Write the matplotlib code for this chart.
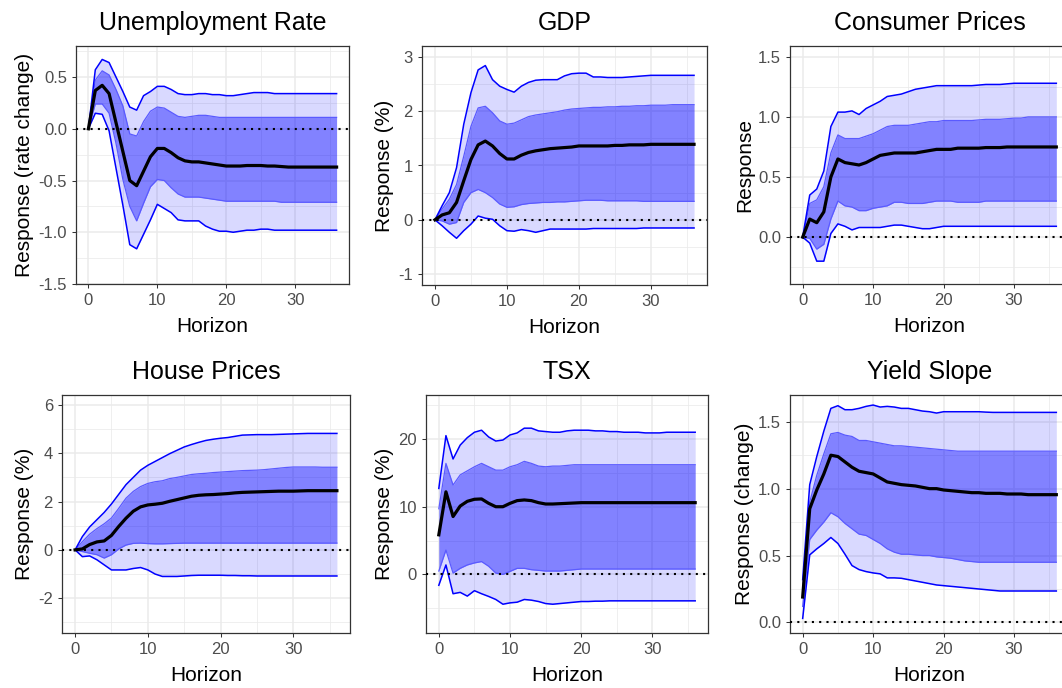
import numpy as np
import matplotlib
matplotlib.use("Agg")
import matplotlib.pyplot as plt
from matplotlib.ticker import MultipleLocator, FuncFormatter

plt.rcParams['font.family'] = ['Liberation Sans', 'DejaVu Sans']
plt.rcParams['axes.unicode_minus'] = False

horizon = np.arange(37)

# Unemployment Rate
unemp_lo90 = [0, 0.15, 0.14, -0.02, -0.38, -0.74, -1.12, -1.16, -1.02, -0.88, -0.73, -0.77, -0.81, -0.88,
              -0.89, -0.89, -0.89, -0.94, -0.97, -0.99, -0.99, -1.0, -0.99, -0.98, -0.98, -0.97, -0.97, -0.98] + [-0.98] * 9
unemp_lo68 = [0, 0.24, 0.24, 0.15, -0.14, -0.49, -0.75, -0.89, -0.72, -0.56, -0.49, -0.50, -0.57, -0.63,
              -0.66, -0.66, -0.66, -0.67, -0.68, -0.69, -0.70, -0.70, -0.70, -0.70, -0.70, -0.70, -0.70, -0.70] + [-0.71] * 9
unemp_med = [0, 0.37, 0.42, 0.34, 0.06, -0.22, -0.50, -0.55, -0.41, -0.27, -0.19, -0.19, -0.23, -0.28, -0.31,
             -0.32, -0.32, -0.33, -0.34, -0.35, -0.36, -0.36, -0.36, -0.355, -0.355, -0.355, -0.36, -0.36,
             -0.365, -0.37] + [-0.37] * 7
unemp_hi68 = [0, 0.47, 0.56, 0.52, 0.38, 0.22, -0.05, -0.07, 0.07, 0.17, 0.21, 0.20, 0.16, 0.12, 0.11, 0.12,
              0.13, 0.13, 0.12, 0.11, 0.11, 0.11] + [0.11] * 15
unemp_hi90 = [0, 0.57, 0.67, 0.64, 0.50, 0.36, 0.21, 0.18, 0.32, 0.36, 0.41, 0.41, 0.38, 0.34,
              0.33, 0.33, 0.34, 0.34, 0.33, 0.33, 0.32, 0.32, 0.33, 0.34, 0.35, 0.35, 0.35, 0.34] + [0.34] * 9

# GDP
gdp_lo90 = [0, -0.11, -0.23, -0.34, -0.20, -0.08, 0.07, 0.03, 0.01, -0.11, -0.20, -0.21, -0.18, -0.20, -0.23,
            -0.20, -0.17, -0.17, -0.17, -0.17, -0.17, -0.17, -0.16, -0.16, -0.16, -0.16, -0.16, -0.16, -0.16] + [-0.15] * 8
gdp_lo68 = [0, -0.02, -0.08, -0.05, 0.32, 0.50, 0.56, 0.50, 0.41, 0.29, 0.23, 0.24, 0.28, 0.30, 0.31, 0.32,
            0.32, 0.33, 0.33, 0.34, 0.35, 0.36, 0.36, 0.36, 0.35, 0.35, 0.35, 0.35, 0.35, 0.34] + [0.34] * 7
gdp_med = [0, 0.09, 0.13, 0.32, 0.72, 1.11, 1.38, 1.45, 1.36, 1.22, 1.12, 1.12, 1.19, 1.24, 1.27, 1.29, 1.31,
           1.32, 1.33, 1.34, 1.36, 1.36, 1.36, 1.36, 1.36, 1.37, 1.37, 1.38, 1.38, 1.38] + [1.39] * 7
gdp_hi68 = [0, 0.20, 0.38, 0.65, 1.17, 1.72, 2.06, 2.09, 1.97, 1.82, 1.76, 1.78, 1.84, 1.90, 1.93, 1.95, 1.97,
            1.99, 2.02, 2.04, 2.05, 2.06, 2.07, 2.07, 2.08, 2.08, 2.09, 2.09, 2.10, 2.10, 2.11, 2.11, 2.11,
            2.12, 2.12, 2.12, 2.12]
gdp_hi90 = [0, 0.26, 0.50, 0.96, 1.76, 2.34, 2.76, 2.84, 2.58, 2.46, 2.40, 2.35, 2.46, 2.53, 2.57, 2.58, 2.58,
            2.58, 2.65, 2.69, 2.70, 2.70, 2.63, 2.63, 2.62, 2.62, 2.62, 2.63, 2.64, 2.65] + [2.66] * 7

# Consumer Prices
cpi_lo90 = [0, -0.05, -0.20, -0.20, 0.03, 0.11, 0.09, 0.06, 0.08, 0.08, 0.08, 0.08, 0.09, 0.10, 0.10, 0.09,
            0.08, 0.07, 0.07, 0.08, 0.09, 0.09] + [0.09] * 15
cpi_lo68 = [0, -0.01, -0.10, -0.06, 0.15, 0.30, 0.26, 0.25, 0.22, 0.22, 0.24, 0.25, 0.26, 0.29, 0.29, 0.28,
            0.28, 0.28, 0.29, 0.30, 0.30, 0.30, 0.29, 0.29, 0.29, 0.29] + [0.30] * 11
cpi_med = [0, 0.15, 0.12, 0.21, 0.50, 0.65, 0.62, 0.61, 0.60, 0.62, 0.65, 0.68, 0.69, 0.70, 0.70, 0.70, 0.70,
           0.71, 0.72, 0.73, 0.73, 0.73, 0.74, 0.74, 0.74, 0.74, 0.745, 0.745, 0.745] + [0.75] * 8
cpi_hi68 = [0, 0.28, 0.31, 0.42, 0.70, 0.85, 0.82, 0.82, 0.82, 0.84, 0.86, 0.89, 0.92, 0.93, 0.93, 0.93, 0.94,
            0.95, 0.96, 0.96, 0.97, 0.97, 0.97, 0.97, 0.97, 0.975, 0.98, 0.98, 0.98, 0.985, 0.99, 0.99] + [1.0] * 5
cpi_hi90 = [0, 0.35, 0.40, 0.55, 0.92, 1.04, 1.04, 1.05, 1.02, 1.07, 1.10, 1.13, 1.17, 1.18, 1.19, 1.21, 1.23,
            1.24, 1.25, 1.26, 1.26, 1.26, 1.26, 1.26, 1.26, 1.265, 1.27, 1.27, 1.27, 1.275] + [1.28] * 7

# House Prices
house_lo90 = [0, -0.28, -0.25, -0.41, -0.62, -0.83, -0.83, -0.83, -0.77, -0.73, -0.83, -1.0, -1.1, -1.1, -1.1,
              -1.08, -1.06, -1.05, -1.05, -1.05, -1.05, -1.06, -1.06, -1.07, -1.07, -1.08] + [-1.08] * 11
house_lo68 = [0, -0.07, -0.14, -0.20, -0.34, -0.20, 0.04, 0.20, 0.27, 0.28, 0.26, 0.25, 0.25, 0.26, 0.27,
              0.28] + [0.28] * 21
house_med = [0, 0.04, 0.22, 0.33, 0.37, 0.60, 0.97, 1.31, 1.60, 1.78, 1.86, 1.89, 1.93, 2.01, 2.08, 2.15, 2.22,
             2.26, 2.28, 2.29, 2.31, 2.33, 2.36, 2.38, 2.39, 2.40, 2.41, 2.42, 2.43, 2.43, 2.43, 2.44, 2.45,
             2.45, 2.45, 2.45, 2.45]
house_hi68 = [0, 0.34, 0.65, 0.88, 1.08, 1.32, 1.72, 2.14, 2.42, 2.62, 2.75, 2.82, 2.86, 2.95, 3.00, 3.06, 3.12,
              3.15, 3.17, 3.20, 3.22, 3.24, 3.26, 3.28, 3.29, 3.30, 3.32, 3.35, 3.38, 3.41, 3.43, 3.43, 3.43,
              3.43, 3.42, 3.42, 3.42]
house_hi90 = [0, 0.55, 0.95, 1.25, 1.55, 1.90, 2.30, 2.70, 3.00, 3.30, 3.50, 3.66, 3.82, 3.98, 4.12, 4.26, 4.36,
              4.45, 4.53, 4.58, 4.62, 4.65, 4.70, 4.75, 4.76, 4.77, 4.77, 4.77, 4.78, 4.79, 4.80, 4.81, 4.82,
              4.82, 4.82, 4.82, 4.82]

# TSX
tsx_lo90 = [-1.6, 1.4, -2.85, -2.65, -3.2, -2.4, -2.85, -3.25, -3.7, -4.4, -4.2, -4.1, -3.7, -3.8, -4.0, -4.3,
            -4.4, -4.3, -4.2, -4.1, -4.0, -4.0, -3.95, -3.95] + [-3.9] * 13
tsx_lo68 = [0.5, 3.6, 0.2, 0.9, 1.4, 1.7, 1.9, 1.2, 0.2, 0.0, 0.45, 0.9, 0.9, 0.7, 0.6, 0.5, 0.5, 0.5, 0.6,
            0.7, 0.8] + [0.8] * 16
tsx_med = [5.85, 12.2, 8.55, 10.1, 10.8, 11.1, 11.15, 10.5, 10.0, 10.0, 10.5, 10.9, 11.0, 10.9, 10.6, 10.4,
           10.4, 10.45, 10.5, 10.55] + [10.6] * 17
tsx_hi68 = [9.7, 16.4, 13.2, 14.7, 15.3, 15.9, 16.4, 15.9, 15.4, 15.4, 15.9, 16.2, 16.7, 16.4, 16.0, 15.9,
            16.0, 16.0, 16.1, 16.2] + [16.2] * 17
tsx_hi90 = [12.7, 20.5, 17.05, 19.1, 20.2, 21.0, 21.3, 20.3, 19.7, 19.85, 20.6, 20.9, 21.6, 21.6, 21.2, 21.1,
            21.0, 21.0, 21.2, 21.3, 21.3, 21.3, 21.2, 21.2, 21.1, 21.1, 21.0, 21.0, 21.0, 20.9, 20.9, 20.9,
            21.0, 21.0, 21.0, 21.0, 21.0]

# Yield Slope
slope_lo90 = [0.03, 0.505, 0.55, 0.59, 0.635, 0.59, 0.51, 0.425, 0.395, 0.38, 0.37, 0.363, 0.333, 0.333, 0.33,
              0.32, 0.31, 0.30, 0.29, 0.28, 0.275, 0.27, 0.265, 0.26, 0.255, 0.25, 0.245, 0.24] + [0.235] * 9
slope_lo68 = [0.12, 0.62, 0.69, 0.75, 0.82, 0.79, 0.74, 0.70, 0.66, 0.65, 0.62, 0.59, 0.55, 0.525, 0.51, 0.51,
              0.505, 0.50, 0.50, 0.49, 0.485, 0.48, 0.47, 0.46, 0.455] + [0.45] * 12
slope_med = [0.19, 0.85, 0.99, 1.11, 1.25, 1.24, 1.20, 1.16, 1.13, 1.12, 1.11, 1.08, 1.05, 1.04, 1.03, 1.025,
             1.02, 1.01, 1.0, 1.0, 0.99, 0.985, 0.98, 0.975, 0.97, 0.97, 0.965, 0.965, 0.965, 0.96, 0.96, 0.96,
             0.955, 0.955, 0.955, 0.955, 0.955]
slope_hi68 = [0.25, 0.90, 1.10, 1.26, 1.41, 1.42, 1.40, 1.39, 1.36, 1.36, 1.35, 1.34, 1.33, 1.32, 1.32, 1.315,
              1.31, 1.305, 1.30, 1.295, 1.29, 1.285] + [1.28] * 15
slope_hi90 = [0.32, 1.03, 1.24, 1.43, 1.60, 1.62, 1.59, 1.59, 1.60, 1.615, 1.625, 1.61, 1.615, 1.61, 1.60, 1.60,
              1.59, 1.58, 1.575, 1.565, 1.575, 1.575, 1.575, 1.575, 1.575, 1.575, 1.572] + [1.57] * 10

titles = ["Unemployment Rate", "GDP", "Consumer Prices", "House Prices", "TSX", "Yield Slope"]
ylabels = ["Response (rate change)", "Response (%)", "Response", "Response (%)", "Response (%)", "Response (change)"]

panels = [
    (unemp_lo90, unemp_lo68, unemp_med, unemp_hi68, unemp_hi90),
    (gdp_lo90, gdp_lo68, gdp_med, gdp_hi68, gdp_hi90),
    (cpi_lo90, cpi_lo68, cpi_med, cpi_hi68, cpi_hi90),
    (house_lo90, house_lo68, house_med, house_hi68, house_hi90),
    (tsx_lo90, tsx_lo68, tsx_med, tsx_hi68, tsx_hi90),
    (slope_lo90, slope_lo68, slope_med, slope_hi68, slope_hi90),
]

# panel boxes in pixels (left, top, right, bottom), y limits, tick step, decimals
boxes = [(76, 46, 349, 284), (422, 46, 707, 285), (790, 46, 1069, 284),
         (62, 395, 350, 633), (426, 395, 708, 633), (790, 395, 1069, 633)]
ylims = [(-1.5, 0.8), (-1.2, 3.2), (-0.39, 1.59), (-3.44, 6.41), (-8.65, 26.5), (-0.079, 1.70)]
ysteps = [0.5, 1, 0.5, 2, 10, 0.5]
ydec = [1, 0, 1, 0, 0, 1]

W, H = 1062, 688
fig = plt.figure(figsize=(W / 100, H / 100), dpi=100)

def fmt(d):
    def f(v, pos):
        s = f"{v:.{d}f}"
        if s.startswith("-") and float(s) == 0:
            s = s[1:]
        return s
    return FuncFormatter(f)

for i in range(6):
    l, t, r, b = boxes[i]
    ax = fig.add_axes([l / W, 1 - b / H, (r - l) / W, (b - t) / H])
    lo90, lo68, med, hi68, hi90 = panels[i]

    # bands
    ax.fill_between(horizon, lo90, hi90, color='blue', alpha=0.15, lw=0, zorder=1)
    ax.fill_between(horizon, lo68, hi68, color='blue', alpha=0.4, lw=0, zorder=1.1)
    ax.plot(horizon, lo68, color='#5a5aff', lw=0.9, zorder=2)
    ax.plot(horizon, hi68, color='#5a5aff', lw=0.9, zorder=2)
    ax.plot(horizon, lo90, color='#0000ff', lw=1.1, zorder=2.1)
    ax.plot(horizon, hi90, color='#0000ff', lw=1.1, zorder=2.1)
    ax.axhline(0, color='black', lw=1.5, ls=(0, (1, 2.5)), zorder=3)
    ax.plot(horizon, med, color='black', lw=2.3, zorder=4)

    ax.set_xlim(-1.8, 37.8)
    ax.set_ylim(*ylims[i])
    ax.xaxis.set_major_locator(MultipleLocator(10))
    ax.xaxis.set_minor_locator(MultipleLocator(5))
    ax.yaxis.set_major_locator(MultipleLocator(ysteps[i]))
    ax.yaxis.set_minor_locator(MultipleLocator(ysteps[i] / 2))
    ax.yaxis.set_major_formatter(fmt(ydec[i]))

    ax.set_axisbelow(True)
    ax.grid(which='major', color='#ebebeb', lw=1.1)
    ax.grid(which='minor', color='#ebebeb', lw=0.55)
    ax.tick_params(which='major', length=3, width=0.75, color='#333333', pad=3.5,
                   labelsize=12, labelcolor='#4d4d4d')
    ax.tick_params(which='minor', length=0)
    for sp in ax.spines.values():
        sp.set_color('#333333')
        sp.set_linewidth(0.9)

    ax.set_title(titles[i], fontsize=18, pad=11.5)
    ax.set_xlabel("Horizon", fontsize=15, labelpad=6.5)
    ax.set_ylabel(ylabels[i], fontsize=15, labelpad=3)

fig.savefig("out.png", dpi=100)
